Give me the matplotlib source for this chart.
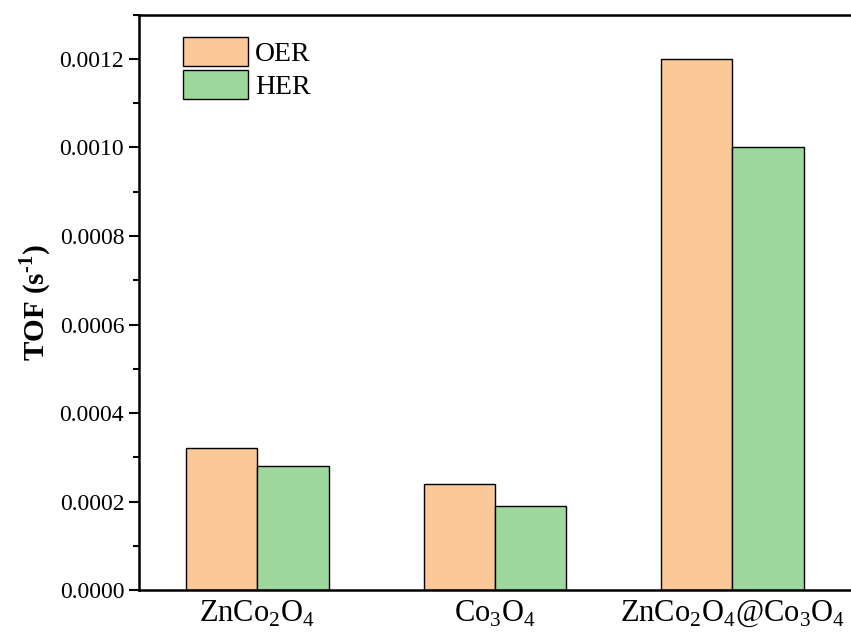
import numpy as np
import matplotlib
matplotlib.use("Agg")
import matplotlib.pyplot as plt
from matplotlib.ticker import MultipleLocator

plt.rcParams['font.family'] = ['Liberation Serif', 'DejaVu Serif']
plt.rcParams['mathtext.fontset'] = 'custom'
plt.rcParams['mathtext.rm'] = 'Liberation Serif'
plt.rcParams['mathtext.bf'] = 'Liberation Serif:bold'

# ---------- data ----------
categories = [r'ZnCo$_2$O$_4$', r'Co$_3$O$_4$', r'ZnCo$_2$O$_4$@Co$_3$O$_4$']
oer = [0.00032, 0.00024, 0.00120]
her = [0.00028, 0.00019, 0.00100]

oer_color = '#FBC897'
her_color = '#9FD89D'

# ---------- plot ----------
fig = plt.figure(figsize=(8.51, 6.40), dpi=100)
ax = fig.add_axes([0.163, 0.078, 0.837, 0.899])

x = np.arange(len(categories))
w = 0.3
ax.bar(x - w / 2, oer, w, color=oer_color, edgecolor='black', linewidth=1.0, label='OER')
ax.bar(x + w / 2, her, w, color=her_color, edgecolor='black', linewidth=1.0, label='HER')

ax.set_xlim(-0.5, 2.5)
ax.set_ylim(0, 0.0013)
ax.set_xticks(x)
ax.set_xticklabels(categories, fontsize=22)
ax.yaxis.set_major_locator(MultipleLocator(0.0002))
ax.yaxis.set_minor_locator(MultipleLocator(0.0001))
ax.yaxis.set_major_formatter(matplotlib.ticker.FormatStrFormatter('%.4f'))
ax.tick_params(axis='y', which='major', direction='out', length=7, width=1.5, labelsize=17)
ax.tick_params(axis='y', which='minor', direction='out', length=4, width=1.5)
ax.tick_params(axis='x', length=0, pad=6)

ax.spines['right'].set_visible(False)
for s in ['left', 'top', 'bottom']:
    ax.spines[s].set_linewidth(1.8)

ax.set_ylabel('TOF (s$^{\\mathbf{\u2010}\\mathbf{1}}$)', fontsize=21, fontweight='bold', labelpad=5)

ax.legend(loc='upper left', bbox_to_anchor=(0.046, 0.98), frameon=False, fontsize=20,
          handlelength=2.35, handleheight=1.2, handletextpad=0.25, labelspacing=0.12,
          borderaxespad=0)

fig.savefig('out.png', dpi=100)
